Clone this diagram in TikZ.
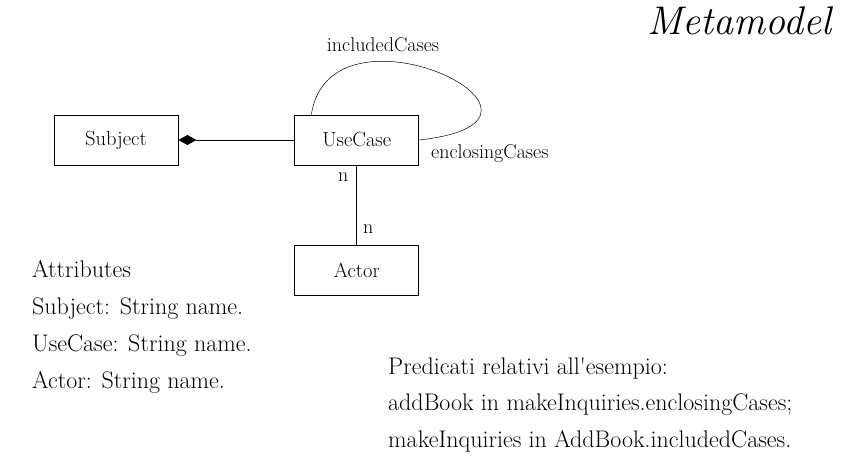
\documentclass[tikz,border=0pt]{standalone}
\usepackage{fontspec}
\usepackage{amsmath}
\usetikzlibrary{positioning,arrows.meta}

\begin{document}
\begin{tikzpicture}[x=1pt, y=-1pt,
    classbox/.style={rectangle, draw, line width=0.8pt, minimum width=124pt, minimum height=50pt, font=\fontsize{20.5}{24}\selectfont},
    rolelabel/.style={font=\fontsize{20}{23}\selectfont, inner sep=0pt},
    bodytext/.style={anchor=base west, inner sep=0pt, font=\fontsize{24}{28}\selectfont},]
    \useasboundingbox (0,0) rectangle (842,465);
    % title
    \node[anchor=base east, inner sep=0pt, font=\fontsize{40}{46}\selectfont\itshape] (title) at (832,35) {Metamodel};
    % nodes
    \node[classbox]      (subject)    at (116,140)              {Subject};
    \node[classbox]      (usecase)    [right=116pt of subject]  {UseCase};
    \node[classbox]      (actor)      [below=80pt of usecase]   {Actor};
    % lines
    \draw[{Diamond[length=18pt,width=10pt]}-, line width=0.8pt] (subject.east) -- (usecase.west);
    \draw[line width=0.8pt] (usecase.south) -- (actor.north)
        node[rolelabel, pos=0.15, left=8pt]{n}
        node[rolelabel, pos=0.8, right=6pt]{n};
    \draw[line width=0.5pt] ([xshift=17pt]usecase.north west) .. controls (330,-10) and (600,120) .. (usecase.east);
    \node[rolelabel] (included)  at (383,45)                  {includedCases};
    \node[rolelabel, anchor=base west] (enclosing) at (431,159) {enclosingCases};
    % attributes
    \node[bodytext] (attr)   at (32,277) {Attributes};
    \node[bodytext] (attrs)  at (32,314) {Subject: String name.};
    \node[bodytext] (attru)  at (32,351) {UseCase: String name.};
    \node[bodytext] (attra)  at (32,388) {Actor: String name.};
    % predicates
    \node[bodytext] (pred)   at (388,374) {Predicati relativi all\textquotesingle esempio:};
    \node[bodytext] (preda)  at (388,410) {addBook in makeInquiries.enclosingCases;};
    \node[bodytext] (predb)  at (388,447) {makeInquiries in AddBook.includedCases.};
\end{tikzpicture}
\end{document}
